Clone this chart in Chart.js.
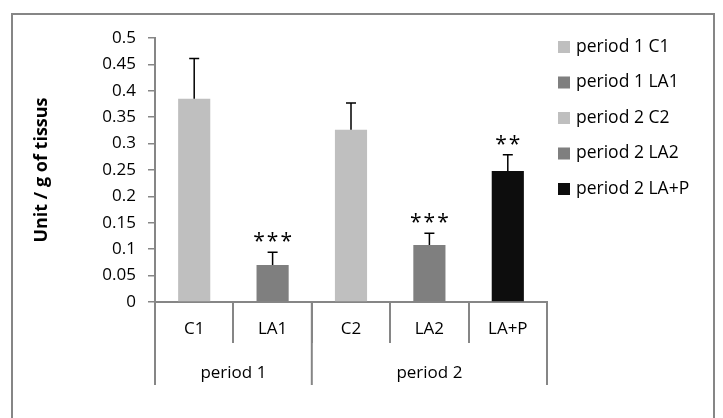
<!DOCTYPE html>
<html>
<head>
<meta charset="utf-8">
<script src="https://cdn.jsdelivr.net/npm/chart.js@4.4.0/dist/chart.umd.min.js"></script>
<style>
  html, body { margin: 0; padding: 0; background: #fff; }
  #wrap { width: 723px; height: 418px; }
</style>
</head>
<body>
<div id="wrap"><canvas id="chart" width="723" height="418"></canvas></div>
<script>
// Data
const categories = ['C1', 'LA1', 'C2', 'LA2', 'LA+P'];
const periods = ['period 1', 'period 2'];
const periodSizes = [2, 3];
const means = [0.385, 0.070, 0.326, 0.108, 0.248];
const errors = [0.076, 0.024, 0.051, 0.022, 0.031];
const stars = ['', '***', '', '***', '**'];
const yTicks = ['0', '0.05', '0.1', '0.15', '0.2', '0.25', '0.3', '0.35', '0.4', '0.45', '0.5'];
const barColors = ['#bfbfbf', '#7f7f7f', '#bfbfbf', '#7f7f7f', '#0d0d0d'];

const FONT = "'Open Sans', sans-serif";
const AXIS = '#868686';

// legend names: "period N" + category
const legendNames = [];
periods.forEach((p, pi) => {
    const start = periodSizes.slice(0, pi).reduce((a, b) => a + b, 0);
    for (let k = 0; k < periodSizes[pi]; k++) legendNames.push(p + ' ' + categories[start + k]);
});

// White background + outer frame
const framePlugin = {
    id: 'frame',
    beforeDraw(chart) {
        const c = chart.ctx;
        c.save();
        c.fillStyle = '#fff';
        c.fillRect(0, 0, chart.width, chart.height);
        c.strokeStyle = AXIS;
        c.lineWidth = 2;
        c.strokeRect(12, 14, 702, 430);
        c.restore();
    }
};

// Error bars and significance stars
const errorPlugin = {
    id: 'errorBars',
    afterDatasetsDraw(chart) {
        const c = chart.ctx;
        const y = chart.scales.y;
        const meta = chart.getDatasetMeta(0);
        c.save();
        c.strokeStyle = '#000';
        c.lineWidth = 1.5;
        meta.data.forEach((bar, i) => {
            const yBar = y.getPixelForValue(means[i]);
            const yTop = y.getPixelForValue(means[i] + errors[i]);
            c.beginPath();
            c.moveTo(bar.x, yBar);
            c.lineTo(bar.x, yTop);
            c.moveTo(bar.x - 5, yTop);
            c.lineTo(bar.x + 5, yTop);
            c.stroke();
            if (stars[i]) {
                c.fillStyle = '#000';
                c.font = '21px ' + FONT;
                c.letterSpacing = '2px';
                c.textAlign = 'center';
                c.textBaseline = 'middle';
                c.fillText(stars[i], bar.x + 1, yTop - 10);
            }
        });
        c.restore();
    }
};

// Second level of the category axis + legend
const groupPlugin = {
    id: 'groups',
    afterDraw(chart) {
        const c = chart.ctx;
        const x = chart.scales.x;
        const area = chart.chartArea;
        const step = (x.right - x.left) / categories.length;
        c.save();
        c.strokeStyle = AXIS;
        c.lineWidth = 2;
        c.fillStyle = '#000';
        c.font = '17px ' + FONT;
        c.textAlign = 'center';
        c.textBaseline = 'middle';
        let cum = 0;
        const edges = [x.left];
        periodSizes.forEach(n => { cum += n; edges.push(x.left + step * cum); });
        edges.forEach(px => {
            c.beginPath();
            c.moveTo(px, area.bottom);
            c.lineTo(px, area.bottom + 83);
            c.stroke();
        });
        periods.forEach((p, i) => {
            c.fillText(p, (edges[i] + edges[i + 1]) / 2, area.bottom + 71);
        });

        // legend
        c.textAlign = 'left';
        c.font = '17.5px ' + FONT;
        legendNames.forEach((name, i) => {
            const cy = 47 + i * 35.5;
            c.fillStyle = barColors[i];
            c.fillRect(558, cy - 6, 12, 12);
            c.fillStyle = '#000';
            c.fillText(name, 576, cy);
        });
        c.restore();
    }
};

const ctx = document.getElementById('chart').getContext('2d');
const chart = new Chart(ctx, {
    type: 'bar',
    data: {
        labels: categories,
        datasets: [{
            data: means,
            backgroundColor: barColors,
            borderWidth: 0,
            barPercentage: 0.41,
            categoryPercentage: 1
        }]
    },
    options: {
        responsive: false,
        animation: false,
        layout: { padding: { top: 38, right: 176, bottom: 0, left: 0 } },
        plugins: {
            legend: { display: false },
            tooltip: { enabled: false }
        },
        scales: {
            x: {
                type: 'category',
                afterFit(scale) { scale.height = 116; },
                grid: {
                    offset: true,
                    drawOnChartArea: false,
                    tickLength: 41,
                    color: AXIS,
                    lineWidth: 2
                },
                border: { color: AXIS, width: 2 },
                ticks: {
                    color: '#000',
                    font: { family: FONT, size: 17 },
                    padding: -24,
                    maxRotation: 0
                }
            },
            y: {
                min: 0,
                max: 0.5,
                afterFit(scale) { scale.width = 155; },
                grid: {
                    drawOnChartArea: false,
                    tickLength: 7,
                    color: AXIS,
                    lineWidth: 1.5
                },
                border: { color: AXIS, width: 2 },
                ticks: {
                    stepSize: 0.05,
                    color: '#000',
                    font: { family: FONT, size: 17 },
                    padding: 12,
                    callback: (v, i) => yTicks[i]
                },
                title: {
                    display: true,
                    text: 'Unit / g of tissus',
                    color: '#000',
                    font: { family: FONT, size: 18, weight: 'bold' },
                    padding: { top: 31, bottom: 0 }
                }
            }
        }
    },
    plugins: [framePlugin, errorPlugin, groupPlugin]
});
</script>
</body>
</html>
